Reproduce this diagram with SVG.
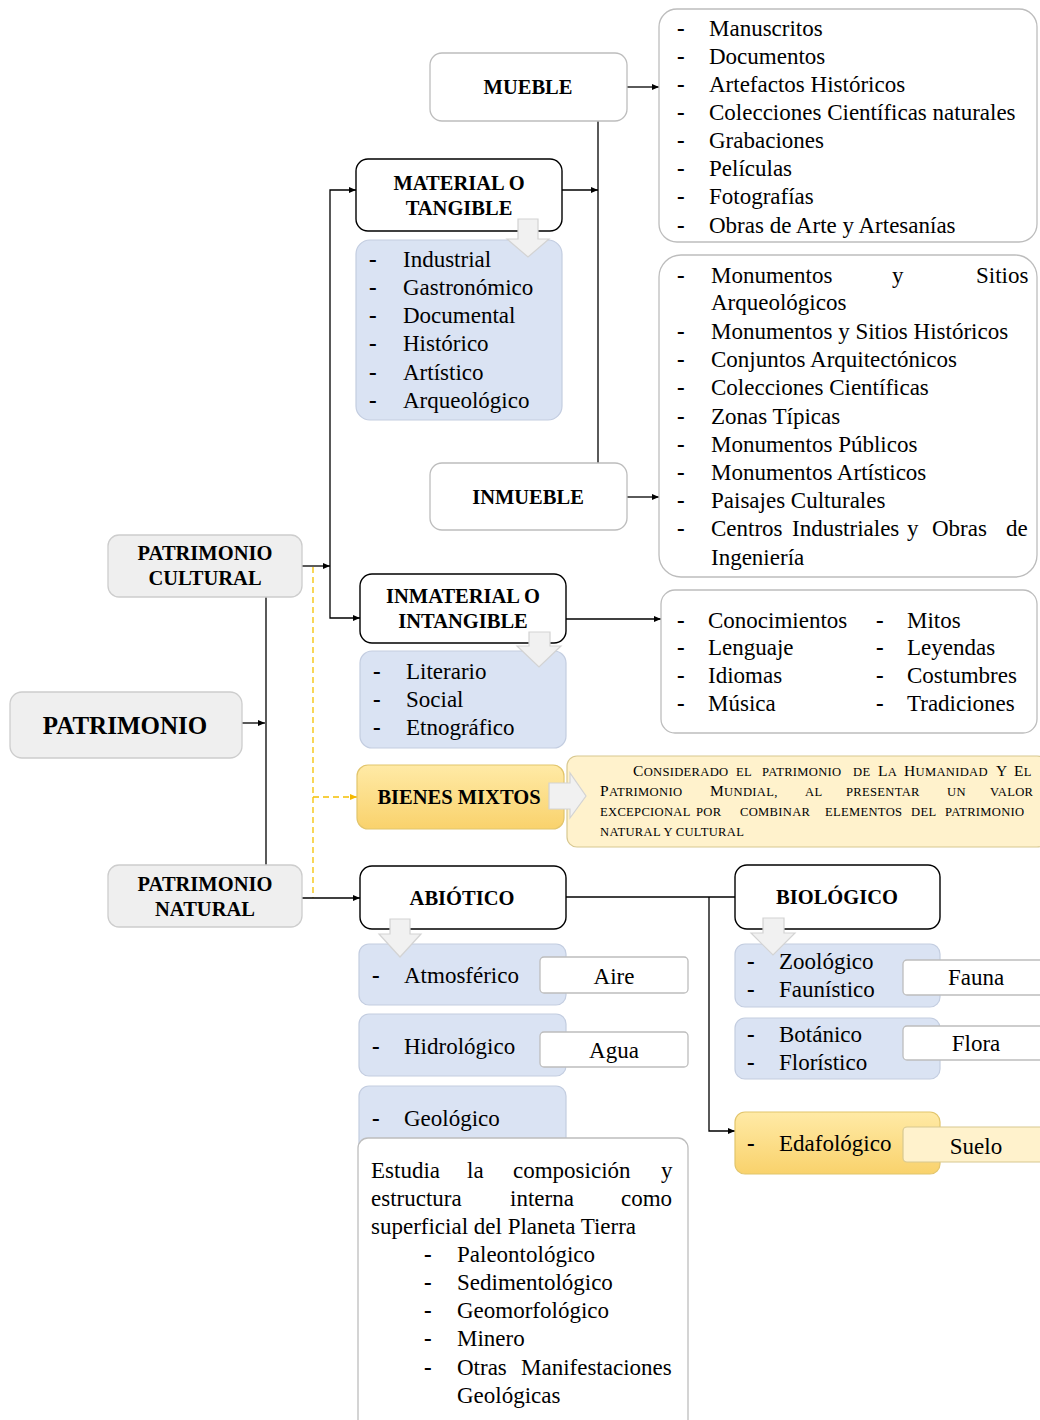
<svg xmlns="http://www.w3.org/2000/svg" width="1040" height="1420" viewBox="0 0 1040 1420">
<style>
text{font-family:"Liberation Serif","Times New Roman",serif;fill:#000}
.t{font-size:23px}
.dash{font-size:23px;font-weight:bold}
.b{font-size:20.5px;font-weight:bold;text-anchor:middle}
.big{font-size:25px;font-weight:bold;text-anchor:middle}
.c{font-size:23px;text-anchor:middle}
.sc{font-size:12.6px;letter-spacing:0.3px}
.bc{font-size:15.5px}
.gray{fill:#efefef;stroke:#cdcdcd;stroke-width:1.3}
.wk{fill:#fff;stroke:#000;stroke-width:1.4}
.wg{fill:#fff;stroke:#bdbdbd;stroke-width:1.3}
.blue{fill:#dae3f3;stroke:#c3cde0;stroke-width:1.2}
.gold{fill:url(#gg);stroke:#e2c56c;stroke-width:1.2}
.cream{fill:#fff2cc;stroke:#d8c890;stroke-width:1.2}
.ba{fill:#f1f1f1;stroke:#d3d3d3;stroke-width:1.2}
.ln{fill:none;stroke:#000;stroke-width:1.3}
.yl{fill:none;stroke:#f5c000;stroke-width:1.3;stroke-dasharray:6 4}
</style>
<defs>
<linearGradient id="gg" x1="0" y1="0" x2="0" y2="1">
<stop offset="0" stop-color="#ffeaa6"/>
<stop offset="1" stop-color="#f9d26c"/>
</linearGradient>
<marker id="ah" markerWidth="8" markerHeight="8" refX="7" refY="4" orient="auto" markerUnits="userSpaceOnUse"><path d="M0,1 L7,4 L0,7 Z" fill="#000"/></marker>
<marker id="ay" markerWidth="8" markerHeight="8" refX="7" refY="4" orient="auto" markerUnits="userSpaceOnUse"><path d="M0,1 L7,4 L0,7 Z" fill="#f5b800"/></marker>
</defs>

<g id="connectors">
<path class="ln" d="M242,723 H265" marker-end="url(#ah)"/>
<path class="ln" d="M266,597 V866"/>
<path class="ln" d="M302,566 H330" marker-end="url(#ah)"/>
<path class="ln" d="M330,566 V190 H356" marker-end="url(#ah)"/>
<path class="ln" d="M330,566 V618 H360" marker-end="url(#ah)"/>
<path class="ln" d="M562,190 H598" marker-end="url(#ah)"/>
<path class="ln" d="M598,121 V463"/>
<path class="ln" d="M627,87 H659" marker-end="url(#ah)"/>
<path class="ln" d="M627,497 H659" marker-end="url(#ah)"/>
<path class="ln" d="M566,619 H661" marker-end="url(#ah)"/>
<path class="yl" d="M313,567 V898"/>
<path class="yl" d="M313,797 H357" marker-end="url(#ay)"/>
<path class="ln" d="M302,898 H360" marker-end="url(#ah)"/>
<path class="ln" d="M566,897 H735"/>
<path class="ln" d="M709,897 V1131 H735" marker-end="url(#ah)"/>
</g>

<g id="patrimonio">
<rect class="gray" x="10" y="692" width="232" height="66" rx="12"/>
<text class="big" x="125" y="734">PATRIMONIO</text>
</g>
<g id="patrimonio-cultural">
<rect class="gray" x="108" y="535" width="194" height="62" rx="11"/>
<text class="b" x="205" y="560">PATRIMONIO</text>
<text class="b" x="205" y="585">CULTURAL</text>
</g>
<g id="patrimonio-natural">
<rect class="gray" x="108" y="865" width="194" height="62" rx="11"/>
<text class="b" x="205" y="891">PATRIMONIO</text>
<text class="b" x="205" y="916">NATURAL</text>
</g>

<g id="mueble">
<rect class="wg" x="430" y="53" width="197" height="68" rx="12"/>
<text class="b" x="528" y="94">MUEBLE</text>
</g>
<g id="mueble-list">
<rect class="wg" x="659" y="9" width="378" height="233" rx="18"/>
<g class="dash"><text x="677" y="36">-</text><text x="677" y="64">-</text><text x="677" y="92">-</text><text x="677" y="120">-</text><text x="677" y="148">-</text><text x="677" y="176">-</text><text x="677" y="204">-</text><text x="677" y="233">-</text></g>
<text class="t" x="709" y="36">Manuscritos</text>
<text class="t" x="709" y="64">Documentos</text>
<text class="t" x="709" y="92">Artefactos Históricos</text>
<text class="t" x="709" y="120">Colecciones Científicas naturales</text>
<text class="t" x="709" y="148">Grabaciones</text>
<text class="t" x="709" y="176">Películas</text>
<text class="t" x="709" y="204">Fotografías</text>
<text class="t" x="709" y="233">Obras de Arte y Artesanías</text>
</g>

<g id="material">
<rect class="blue" x="356" y="240" width="206" height="180" rx="14"/>
<rect class="wk" x="356" y="159" width="206" height="72" rx="12"/>
<text class="b" x="459" y="190">MATERIAL O</text>
<text class="b" x="459" y="215">TANGIBLE</text>
<g class="dash"><text x="369" y="267">-</text><text x="369" y="295">-</text><text x="369" y="323">-</text><text x="369" y="351">-</text><text x="369" y="380">-</text><text x="369" y="408">-</text></g>
<text class="t" x="403" y="267">Industrial</text>
<text class="t" x="403" y="295">Gastronómico</text>
<text class="t" x="403" y="323">Documental</text>
<text class="t" x="403" y="351">Histórico</text>
<text class="t" x="403" y="380">Artístico</text>
<text class="t" x="403" y="408">Arqueológico</text>
<path class="ba" d="M518,219 H538 V239 H549 L528,257 L507,239 H518 Z"/>
</g>

<g id="inmueble">
<rect class="wg" x="430" y="463" width="197" height="67" rx="12"/>
<text class="b" x="528" y="504">INMUEBLE</text>
</g>
<g id="inmueble-list">
<rect class="wg" x="659" y="255" width="378" height="322" rx="22"/>
<g class="dash"><text x="677" y="283">-</text><text x="677" y="339">-</text><text x="677" y="367">-</text><text x="677" y="395">-</text><text x="677" y="424">-</text><text x="677" y="452">-</text><text x="677" y="480">-</text><text x="677" y="508">-</text><text x="677" y="536">-</text></g>
<text class="t" y="283"><tspan x="711">Monumentos</tspan><tspan x="892">y</tspan><tspan x="976">Sitios</tspan></text>
<text class="t" x="711" y="310">Arqueológicos</text>
<text class="t" x="711" y="339">Monumentos y Sitios Históricos</text>
<text class="t" x="711" y="367">Conjuntos Arquitectónicos</text>
<text class="t" x="711" y="395">Colecciones Científicas</text>
<text class="t" x="711" y="424">Zonas Típicas</text>
<text class="t" x="711" y="452">Monumentos Públicos</text>
<text class="t" x="711" y="480">Monumentos Artísticos</text>
<text class="t" x="711" y="508">Paisajes Culturales</text>
<text class="t" y="536"><tspan x="711">Centros</tspan><tspan x="792">Industriales</tspan><tspan x="907">y</tspan><tspan x="932">Obras</tspan><tspan x="1006">de</tspan></text>
<text class="t" x="711" y="565">Ingeniería</text>
</g>

<g id="inmaterial">
<rect class="blue" x="360" y="651" width="206" height="97" rx="12"/>
<rect class="wk" x="360" y="574" width="206" height="69" rx="12"/>
<text class="b" x="463" y="603">INMATERIAL O</text>
<text class="b" x="463" y="628">INTANGIBLE</text>
<g class="dash"><text x="373" y="679">-</text><text x="373" y="707">-</text><text x="373" y="735">-</text></g>
<text class="t" x="406" y="679">Literario</text>
<text class="t" x="406" y="707">Social</text>
<text class="t" x="406" y="735">Etnográfico</text>
<path class="ba" d="M529,632 H550 V646 H561 L539,667 L517,646 H529 Z"/>
</g>
<g id="inmaterial-list">
<rect class="wg" x="661" y="590" width="376" height="143" rx="14"/>
<g class="dash"><text x="677" y="628">-</text><text x="677" y="655">-</text><text x="677" y="683">-</text><text x="677" y="711">-</text><text x="876" y="628">-</text><text x="876" y="655">-</text><text x="876" y="683">-</text><text x="876" y="711">-</text></g>
<text class="t" x="708" y="628">Conocimientos</text>
<text class="t" x="708" y="655">Lenguaje</text>
<text class="t" x="708" y="683">Idiomas</text>
<text class="t" x="708" y="711">Música</text>
<text class="t" x="907" y="628">Mitos</text>
<text class="t" x="907" y="655">Leyendas</text>
<text class="t" x="907" y="683">Costumbres</text>
<text class="t" x="907" y="711">Tradiciones</text>
</g>

<g id="bienes-mixtos">
<rect class="cream" x="567" y="756" width="480" height="91" rx="10"/>
<rect class="gold" x="357" y="765" width="207" height="64" rx="11"/>
<text class="b" x="459" y="804">BIENES MIXTOS</text>
<path class="ba" d="M549,783 H570 V773 L586,796 L570,818 V809 H549 Z"/>
<text class="sc" y="776"><tspan x="633"><tspan class="bc">C</tspan>ONSIDERADO</tspan><tspan x="736">EL</tspan><tspan x="762">PATRIMONIO</tspan><tspan x="853">DE</tspan><tspan x="878"><tspan class="bc">L</tspan>A</tspan><tspan x="904"><tspan class="bc">H</tspan>UMANIDAD</tspan><tspan x="996" class="bc">Y</tspan><tspan x="1014"><tspan class="bc">E</tspan>L</tspan></text>
<text class="sc" y="796"><tspan x="600"><tspan class="bc">P</tspan>ATRIMONIO</tspan><tspan x="710"><tspan class="bc">M</tspan>UNDIAL,</tspan><tspan x="805">AL</tspan><tspan x="846">PRESENTAR</tspan><tspan x="947">UN</tspan><tspan x="990">VALOR</tspan></text>
<text class="sc" y="816"><tspan x="600">EXCEPCIONAL</tspan><tspan x="696">POR</tspan><tspan x="740">COMBINAR</tspan><tspan x="825">ELEMENTOS</tspan><tspan x="911">DEL</tspan><tspan x="945">PATRIMONIO</tspan></text>
<text class="sc" x="600" y="836">NATURAL Y CULTURAL</text>
</g>

<g id="abiotico">
<rect class="wk" x="360" y="866" width="206" height="63" rx="12"/>
<text class="b" x="462" y="905">ABIÓTICO</text>
</g>
<g id="atmosferico">
<rect class="blue" x="359" y="944" width="207" height="61" rx="10"/>
<text class="dash" x="372" y="983">-</text>
<text class="t" x="404" y="983">Atmosférico</text>
<rect class="wg" x="540" y="957" width="148" height="36" rx="4"/>
<text class="c" x="614" y="984">Aire</text>
</g>
<path class="ba" d="M390,919 H410 V934 H421 L400,957 L379,934 H390 Z"/>
<g id="hidrologico">
<rect class="blue" x="359" y="1014" width="207" height="62" rx="10"/>
<text class="dash" x="372" y="1054">-</text>
<text class="t" x="404" y="1054">Hidrológico</text>
<rect class="wg" x="540" y="1032" width="148" height="35" rx="4"/>
<text class="c" x="614" y="1058">Agua</text>
</g>
<g id="geologico">
<rect class="blue" x="359" y="1086" width="207" height="70" rx="10"/>
<text class="dash" x="372" y="1126">-</text>
<text class="t" x="404" y="1126">Geológico</text>
<rect class="wg" x="358" y="1138" width="330" height="300" rx="10"/>
<text class="t" y="1178"><tspan x="371">Estudia</tspan><tspan x="467">la</tspan><tspan x="513">composición</tspan><tspan x="661">y</tspan></text>
<text class="t" y="1206"><tspan x="371">estructura</tspan><tspan x="510">interna</tspan><tspan x="621">como</tspan></text>
<text class="t" x="371" y="1234">superficial del Planeta Tierra</text>
<g class="dash"><text x="424" y="1262">-</text><text x="424" y="1290">-</text><text x="424" y="1318">-</text><text x="424" y="1346">-</text><text x="424" y="1375">-</text></g>
<text class="t" x="457" y="1262">Paleontológico</text>
<text class="t" x="457" y="1290">Sedimentológico</text>
<text class="t" x="457" y="1318">Geomorfológico</text>
<text class="t" x="457" y="1346">Minero</text>
<text class="t" y="1375"><tspan x="457">Otras</tspan><tspan x="521">Manifestaciones</tspan></text>
<text class="t" x="457" y="1403">Geológicas</text>
</g>

<g id="biologico">
<rect class="wk" x="735" y="865" width="205" height="64" rx="12"/>
<text class="b" x="837" y="904">BIOLÓGICO</text>
</g>
<g id="zoologico">
<rect class="blue" x="735" y="944" width="205" height="63" rx="10"/>
<text class="dash" x="747" y="969">-</text><text class="dash" x="747" y="997">-</text>
<text class="t" x="779" y="969">Zoológico</text>
<text class="t" x="779" y="997">Faunístico</text>
<rect class="wg" x="903" y="960" width="150" height="35" rx="4"/>
<text class="c" x="976" y="985">Fauna</text>
</g>
<path class="ba" d="M763,918 H784 V933 H795 L773,955 L751,933 H763 Z"/>
<g id="botanico">
<rect class="blue" x="735" y="1018" width="205" height="61" rx="10"/>
<text class="dash" x="747" y="1042">-</text><text class="dash" x="747" y="1070">-</text>
<text class="t" x="779" y="1042">Botánico</text>
<text class="t" x="779" y="1070">Florístico</text>
<rect class="wg" x="903" y="1026" width="150" height="34" rx="4"/>
<text class="c" x="976" y="1051">Flora</text>
</g>
<g id="edafologico">
<rect class="gold" x="735" y="1112" width="205" height="62" rx="10"/>
<text class="dash" x="747" y="1151">-</text>
<text class="t" x="779" y="1151">Edafológico</text>
<rect class="cream" x="903" y="1127" width="150" height="35" rx="4"/>
<text class="c" x="976" y="1154">Suelo</text>
</g>
</svg>
